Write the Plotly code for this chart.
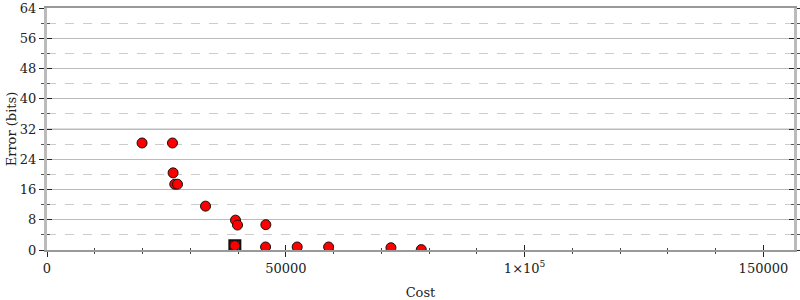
import plotly.graph_objects as go

# ---- data ----
cost = [19900, 26270, 26400, 26750, 27320, 33190, 39470, 39890, 45820,
        39330, 45760, 52380, 58960, 72010, 78360]
error_bits = [28.3, 28.3, 20.4, 17.4, 17.4, 11.6, 7.9, 6.6, 6.7,
              1.15, 0.8, 0.8, 0.8, 0.6, 0.1]
best_cost = [39330]
best_error = [1.1]

x_tickvals = [0, 50000, 100000, 150000]
x_ticktext = ["0", "50000", "1×10<sup>5</sup>", "150000"]
y_tickvals = [0, 8, 16, 24, 32, 40, 48, 56, 64]
x_range = [0, 156400]
y_range = [0, 64]
highlight_y = 32

FONT = "DejaVu Serif"

fig = go.Figure()

fig.add_hline(y=highlight_y, line=dict(color="#dddddd", width=2), layer="below")

fig.add_trace(go.Scatter(
    x=best_cost, y=best_error, mode="markers",
    marker=dict(symbol="square", size=11, color="#cc0000",
                line=dict(color="#111111", width=2)),
    hoverinfo="skip", showlegend=False))

fig.add_trace(go.Scatter(
    x=cost, y=error_bits, mode="markers",
    marker=dict(symbol="circle", size=10, color="#ff0000",
                line=dict(color="#111111", width=1)),
    showlegend=False))

# overlay axes for ticks on the inner side (ticks cross the axis lines)
fig.add_trace(go.Scatter(x=[], y=[], xaxis="x2", yaxis="y2",
                         showlegend=False, hoverinfo="skip"))

fig.update_layout(
    width=800, height=300,
    margin=dict(l=47, r=6, t=8, b=50, autoexpand=False),
    paper_bgcolor="white", plot_bgcolor="white",
    font=dict(family=FONT, size=13, color="#222222"),
    xaxis=dict(
        range=x_range, tickvals=x_tickvals, ticktext=x_ticktext,
        automargin=False,
        ticks="outside", ticklen=5, tickwidth=1, tickcolor="#222222",
        showgrid=False, zeroline=False,
        showline=True, linecolor="#999999", linewidth=2, mirror=True,
        minor=dict(dtick=10000, ticks="outside", ticklen=2,
                   tickcolor="#444444", showgrid=False),
        title=dict(text="Cost", standoff=16, font=dict(size=13)),
        tickfont=dict(size=13),
    ),
    yaxis=dict(
        range=y_range, tickvals=y_tickvals,
        automargin=False,
        ticks="outside", ticklen=5, tickwidth=1, tickcolor="#222222",
        showgrid=True, gridcolor="#bbbbbb", gridwidth=1,
        zeroline=False,
        showline=True, linecolor="#bbbbbb", linewidth=3, mirror="ticks",
        minor=dict(dtick=4, ticks="outside", ticklen=3, tickcolor="#555555",
                   showgrid=True, gridcolor="#cccccc", griddash="dash",
                   gridwidth=1),
        title=dict(text="Error (bits)", standoff=1, font=dict(size=13)),
        tickfont=dict(size=13),
    ),
    xaxis2=dict(
        overlaying="x", anchor="y2", range=x_range, tickvals=x_tickvals,
        automargin=False,
        showticklabels=False, ticks="inside", ticklen=5, tickwidth=1,
        tickcolor="#222222", showgrid=False, zeroline=False, showline=False,
        minor=dict(dtick=10000, ticks="inside", ticklen=2,
                   tickcolor="#444444", showgrid=False),
    ),
    yaxis2=dict(
        overlaying="y", anchor="x2", range=y_range, tickvals=y_tickvals,
        automargin=False,
        showticklabels=False, ticks="inside", ticklen=5, tickwidth=1,
        tickcolor="#222222", showgrid=False, zeroline=False, showline=False,
        mirror="ticks",
        minor=dict(dtick=4, ticks="inside", ticklen=3, tickcolor="#555555",
                   showgrid=False),
    ),
)

fig.write_html("out.html")
